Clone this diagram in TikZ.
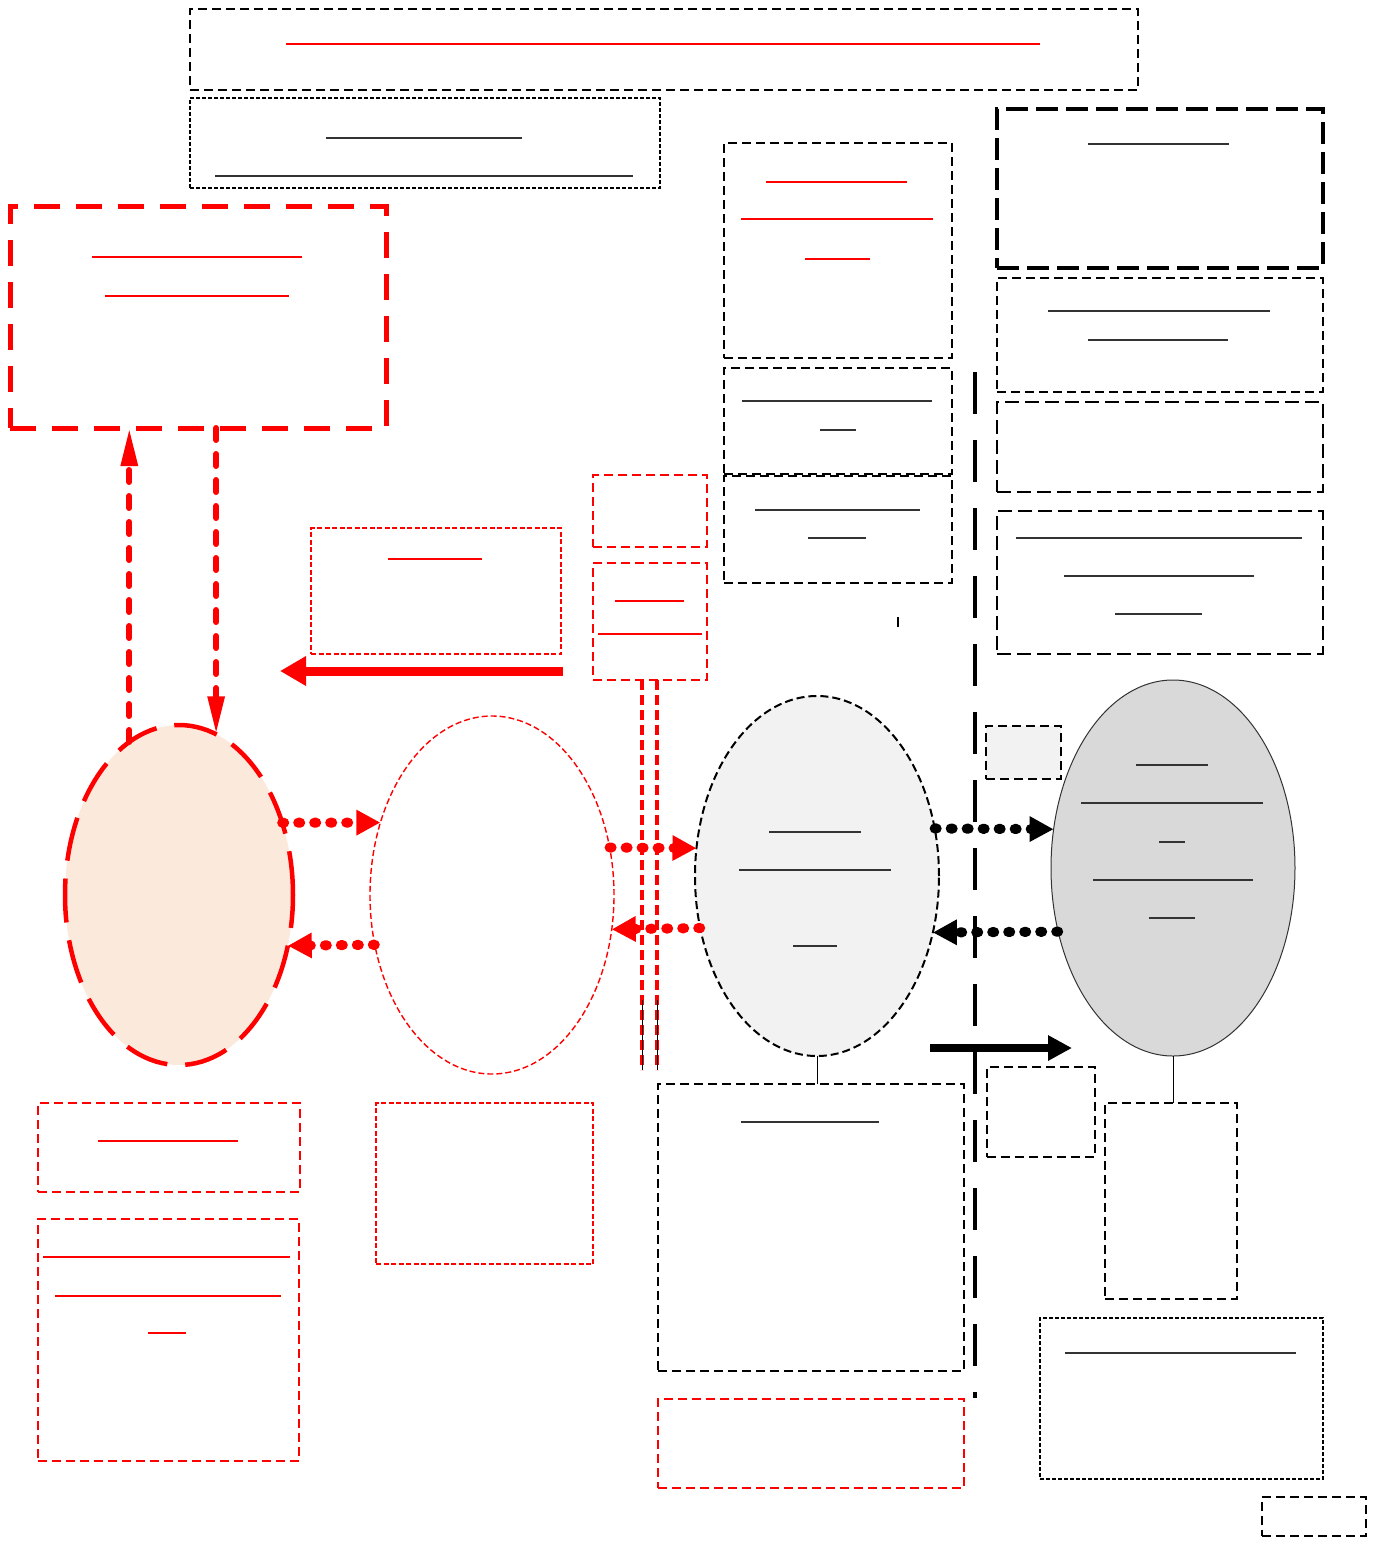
\documentclass[tikz,border=0pt]{standalone}
\usepackage{xcolor}
\usepackage{tikz}
\usetikzlibrary{positioning,shapes.geometric,arrows.meta}
\definecolor{peach}{HTML}{FBE9DC}
\definecolor{lightgray}{HTML}{F2F2F2}
\definecolor{midgray}{HTML}{D9D9D9}
\tikzstyle{box} = [rectangle, inner sep=0pt, outer sep=0pt, draw=black, line width=2.2pt, dash pattern=on 9pt off 5pt]
\tikzstyle{finebox} = [box, line width=1.4pt, dash pattern=on 4pt off 2pt]
\tikzstyle{bigbox} = [box, line width=3.5pt, dash pattern=on 22pt off 8pt]
\tikzstyle{redbox} = [box, draw=red, line width=2.2pt, dash pattern=on 9pt off 5pt]
\tikzstyle{redfine} = [box, draw=red, line width=1.4pt, dash pattern=on 5pt off 2.5pt]
\tikzstyle{redbig} = [box, draw=red, line width=5pt, dash pattern=on 26pt off 16pt]
\tikzstyle{blob} = [ellipse, inner sep=0pt, outer sep=0pt]
\tikzstyle{ln} = [line width=1.3pt, black!80]
\tikzstyle{redln} = [line width=1.3pt, red]
\tikzstyle{dotarrow} = [line width=10pt, line cap=round, dash pattern=on 2pt off 14pt, -{Triangle[length=24pt,width=24pt,line cap=butt]}]
\tikzstyle{dasharrow} = [line width=6pt, red, line cap=round, dash pattern=on 12pt off 14pt, -{Triangle[length=38pt,width=16pt]}]
\tikzstyle{arrow} = [line width=9pt, -{Triangle[length=26pt,width=28pt]}]

\begin{document}
\begin{tikzpicture}[x=1pt,y=-1pt]
  \useasboundingbox (0,0) rectangle (1373,1543);
  % top boxes
  \node (head) [box, minimum width=948pt, minimum height=81pt] at (664,49.5) {};
  \node (sub) [finebox, minimum width=470pt, minimum height=90pt] at (425,143) {};
  \draw [redln] (286,44) -- (1040,44);
  \draw [ln] (326,138) -- (522,138);
  \draw [ln] (215,176) -- (633,176);
  % left side
  \node (store) [redbig, minimum width=376pt, minimum height=222pt] at (198,317) {};
  \draw [redln, line width=2.2pt] (92,257) -- (302,257);
  \draw [redln] (105,296) -- (289,296);
  \node (note) [redfine, minimum width=250pt, minimum height=126pt] at (436,591) {};
  \draw [redln] (388,559) -- (482,559);
  \node (tagA) [redbox, minimum width=114pt, minimum height=72pt] at (650,511) {};
  \node (tagB) [redbox, minimum width=114pt, minimum height=117pt] at (650,621.5) {};
  \draw [redln] (615,601) -- (684,601);
  \draw [redln] (598,634) -- (702,634);
  % middle column
  \node (infoA) [box, minimum width=228pt, minimum height=215pt] at (838,250.5) {};
  \draw [redln] (766,182) -- (907,182);
  \draw [redln] (741,219) -- (933,219);
  \draw [redln] (805,259) -- (870,259);
  \node (infoB) [box, minimum width=228pt, minimum height=106pt] at (838,421) {};
  \draw [ln] (742,401) -- (932,401);
  \draw [ln] (820,430) -- (856,430);
  \node (infoC) [box, minimum width=228pt, minimum height=107pt] at (838,529.5) {};
  \draw [ln] (755,510) -- (920,510);
  \draw [ln] (808,538) -- (866,538);
  \draw [line width=1.5pt] (898,617) -- (898,627);
  % right column
  \node (srvA) [bigbox, minimum width=326pt, minimum height=159pt] at (1160,188.5) {};
  \draw [ln] (1088,144) -- (1229,144);
  \node (srvB) [box, minimum width=326pt, minimum height=114pt] at (1160,335) {};
  \draw [ln] (1048,311) -- (1270,311);
  \draw [ln] (1088,340) -- (1228,340);
  \node (srvC) [box, line width=2.6pt, dash pattern=on 14pt off 6pt, minimum width=326pt, minimum height=90pt] at (1160,447) {};
  \node (srvD) [box, line width=2.6pt, dash pattern=on 14pt off 6pt, minimum width=326pt, minimum height=143pt] at (1160,582.5) {};
  \draw [ln] (1016,538) -- (1302,538);
  \draw [ln] (1064,576) -- (1254,576);
  \draw [ln] (1115,614) -- (1202,614);
  \node (flag) [box, fill=lightgray, minimum width=75pt, minimum height=53pt] at (1023.5,752.5) {};
  % divider
  \coordinate (divtop) at (975,372);
  \coordinate (divbot) at (975,1398);
  \draw [line width=4pt, dash pattern=on 42pt off 26pt] (divtop) -- (divbot);
  % ellipses
  \node (client) [blob, fill=peach, draw=red, line width=4.5pt, dash pattern=on 44pt off 18pt, minimum width=228pt, minimum height=340pt] at (179,895) {};
  \node (proxy) [blob, draw=red, line width=1.4pt, dash pattern=on 6pt off 3pt, minimum width=244pt, minimum height=358pt] at (492,895) {};
  \node (gate) [blob, fill=lightgray, draw=black, line width=2pt, dash pattern=on 8pt off 4pt, minimum width=244pt, minimum height=360pt] at (817,876) {};
  \draw [ln] (769,832) -- (861,832);
  \draw [ln] (739,870) -- (891,870);
  \draw [ln] (793,946) -- (837,946);
  \node (core) [blob, fill=midgray, draw=black!80, line width=1pt, minimum width=244pt, minimum height=376pt] at (1173,868) {};
  \draw [ln] (1136,765) -- (1208,765);
  \draw [ln] (1081,803) -- (1263,803);
  \draw [ln] (1159,842) -- (1185,842);
  \draw [ln] (1093,880) -- (1253,880);
  \draw [ln] (1149,918) -- (1195,918);
  % connectors between the store and the client
  \draw [dasharrow] (client.108) -- (client.108 |- store.south);
  \draw [dasharrow] (client.77 |- store.south) -- (client.77);
  % red solid arrow
  \coordinate (retA) at (563,671);
  \coordinate (retB) at (280,671);
  \draw [arrow, red] (retA) -- (retB);
  % red double line from tagB
  \coordinate (railA) at (642,1070);
  \coordinate (railB) at (657,1070);
  \draw [red, line width=4pt, dash pattern=on 10pt off 5pt] (tagB.south -| railA) -- (railA);
  \draw [red, line width=4pt, dash pattern=on 10pt off 5pt] (tagB.south -| railB) -- (railB);
  \draw [line width=1pt] (642,1000) -- (railA);
  \draw [line width=1pt] (657,1000) -- (railB);
  % dotted arrows
  \draw [dotarrow, red] (client.35) -- (proxy.147);
  \draw [dotarrow, red] (proxy.203) -- (client.335);
  \draw [dotarrow, red] (proxy.22) -- (gate.167);
  \draw [dotarrow, red] (gate.204) -- (proxy.344);
  \draw [dotarrow, black] (gate.22) -- (core.162);
  \draw [dotarrow, black] (core.209) -- (gate.334);
  % black solid arrow
  \coordinate (pushA) at (930,1048);
  \coordinate (pushB) at (1072,1048);
  \draw [arrow, line width=8pt, -{Triangle[length=24pt,width=24pt]}] (pushA) -- (pushB);
  % lower boxes
  \node (gatebox) [box, minimum width=306pt, minimum height=287pt] at (811,1227.5) {};
  \draw [ln] (741,1122) -- (879,1122);
  \draw [line width=1pt] (gate.south) -- (gate.south |- gatebox.north);
  \node (corebox) [box, minimum width=132pt, minimum height=196pt] at (1171,1201) {};
  \draw [line width=1pt] (core.south) -- (core.south |- corebox.north);
  \node (mid) [box, minimum width=108pt, minimum height=90pt] at (1041,1112) {};
  \node (log) [finebox, minimum width=283pt, minimum height=161pt] at (1181.5,1398.5) {};
  \draw [ln] (1065,1353) -- (1296,1353);
  \node (alert) [redbox, minimum width=306pt, minimum height=89pt] at (811,1443.5) {};
  \node (tiny) [box, minimum width=104pt, minimum height=39pt] at (1314,1516.5) {};
  \node (cfgA) [redbox, minimum width=262pt, minimum height=89pt] at (169,1147.5) {};
  \draw [redln] (98,1141) -- (238,1141);
  \node (cfgB) [redbox, minimum width=261pt, minimum height=242pt] at (168.5,1340) {};
  \draw [redln] (43,1257) -- (290,1257);
  \draw [redln] (55,1296) -- (281,1296);
  \draw [redln] (148,1333) -- (186,1333);
  \node (cfgC) [redfine, minimum width=217pt, minimum height=161pt] at (484.5,1183.5) {};
\end{tikzpicture}
\end{document}
